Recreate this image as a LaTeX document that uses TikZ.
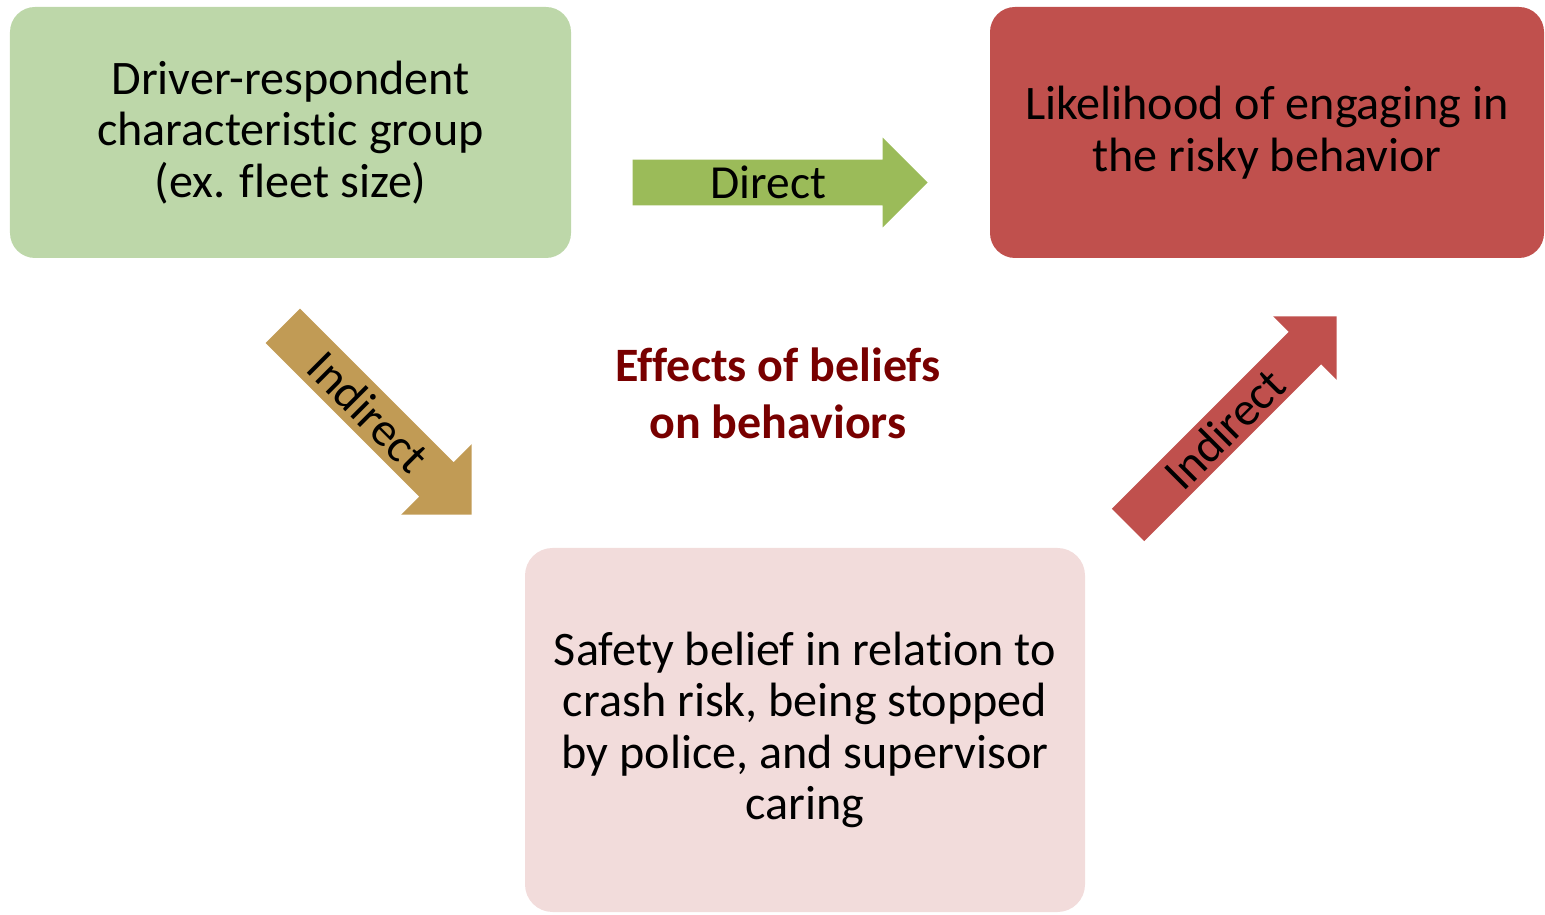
\documentclass[tikz,border=0pt]{standalone}
\usepackage{fontspec}
\setmainfont{Carlito}[Ligatures=NoCommon]
\usetikzlibrary{shapes.arrows}

\definecolor{groupgreen}{RGB}{189,215,169}
\definecolor{riskred}{RGB}{192,80,77}
\definecolor{beliefpink}{RGB}{242,220,219}
\definecolor{directgreen}{RGB}{155,187,89}
\definecolor{indirecttan}{RGB}{193,155,85}
\definecolor{titlered}{RGB}{120,0,0}

\begin{document}
\begin{tikzpicture}[
    box/.style={rounded corners=0.5cm, align=center, font=\fontsize{27.4}{29.3}\selectfont},
    blockarrow/.style={single arrow, anchor=tip, minimum height=5.9cm, single arrow head extend=0.44cm,
      inner xsep=0pt, inner ysep=0.04cm, text height=0.74cm, text depth=0.08cm, font=\fontsize{27}{29.3}\selectfont}]
    \useasboundingbox (0,0) rectangle (30.9,18.28);
    % the three boxes
    \node[box, fill=groupgreen, minimum width=11.22cm, minimum height=5.02cm] (group) at (5.81,15.63)
      {Driver-respondent\\characteristic group\\(ex. fleet size)};
    \node[box, fill=riskred, minimum width=11.08cm, minimum height=5.02cm] (risk) at (25.34,15.63)
      {Likelihood of engaging in\\the risky behavior};
    \node[box, fill=beliefpink, rounded corners=0.55cm, minimum width=11.2cm, minimum height=7.28cm] (belief) at (16.1,3.68)
      {Safety belief in relation to\\crash risk, being stopped\\by police, and supervisor\\caring};
    % block arrows
    \node[blockarrow, fill=directgreen] (direct) at (18.56,14.63) {Direct};
    \node[blockarrow, fill=indirecttan, rotate=-45, minimum height=5.34cm, single arrow head extend=0.51cm,
      inner ysep=0.07cm] (indirect1) at (9.44,7.98) {Indirect};
    \node[blockarrow, fill=riskred, rotate=45] (indirect2) at (26.74,11.96) {Indirect};
    \node[align=center, text=titlered, font=\fontsize{27.3}{32.5}\selectfont\bfseries] (title) at (15.56,10.42)
      {Effects of beliefs\\on behaviors};
\end{tikzpicture}
\end{document}
